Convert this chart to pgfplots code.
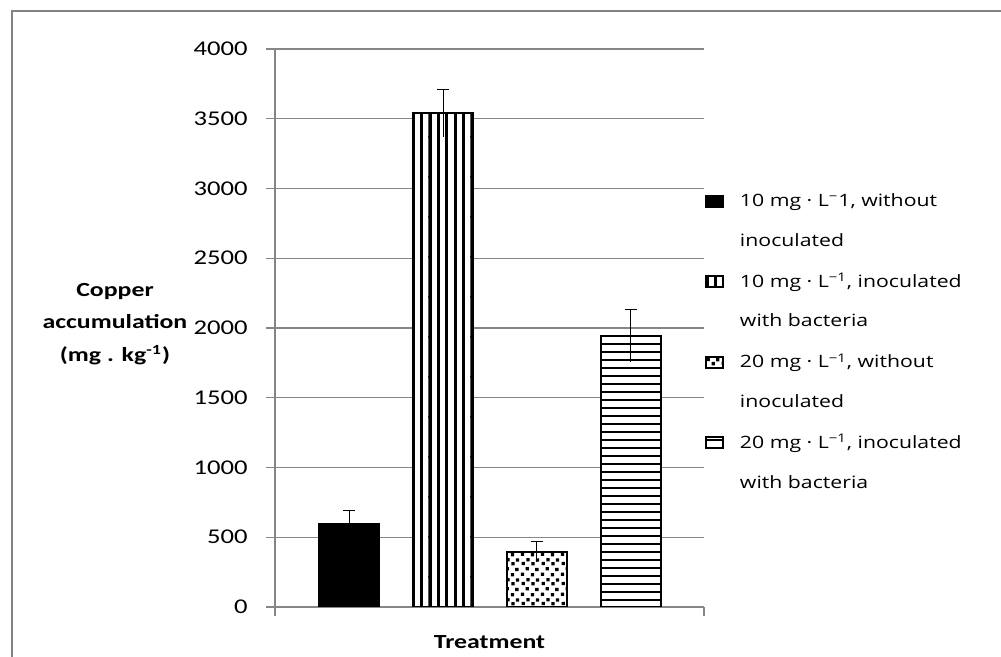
\documentclass[border=0pt]{standalone}
\usepackage{fontspec}
\setmainfont{Carlito}[FakeStretch=1.27]
\newfontfamily\labelfont{Carlito Bold}[FakeStretch=1.29]
\newfontfamily\legendfont{Open Sans}[FakeStretch=1.25]
\usepackage{pgfplots}
\pgfplotsset{compat=1.18}
\usetikzlibrary{patterns.meta}

\definecolor{gridgray}{RGB}{134,134,134}
\definecolor{framegray}{RGB}{130,130,130}

% bar fills (tiles overlap a little so no seams show)
\tikzdeclarepattern{name=vstripes, type=uncolored,
  bounding box={(0,-0.5pt) and (4.2pt,20.5pt)}, tile size={(4.2pt,20pt)},
  code={\fill (0pt,-0.5pt) rectangle (1.6pt,20.5pt);}}
\tikzdeclarepattern{name=hstripes, type=uncolored,
  bounding box={(-0.5pt,0) and (20.5pt,4pt)}, tile size={(20pt,4pt)},
  code={\fill (-0.5pt,0pt) rectangle (20.5pt,1.1pt);}}
\tikzdeclarepattern{name=speckle, type=uncolored,
  bounding box={(0,0) and (10pt,10pt)}, tile size={(10pt,10pt)},
  code={
    \fill (0.4pt,0.6pt) rectangle ++(1.7pt,1.7pt);
    \fill (5.6pt,0.3pt) rectangle ++(1.7pt,1.7pt);
    \fill (2.9pt,3.4pt) rectangle ++(1.7pt,1.7pt);
    \fill (7.9pt,3.0pt) rectangle ++(1.7pt,1.7pt);
    \fill (0.8pt,6.2pt) rectangle ++(1.7pt,1.7pt);
    \fill (5.9pt,6.0pt) rectangle ++(1.7pt,1.7pt);
    \fill (3.3pt,8.1pt) rectangle ++(1.7pt,1.7pt);
    \fill (8.2pt,8.0pt) rectangle ++(1.7pt,1.7pt);
  }}

\pgfplotsset{
  legbox/.style={legend image code/.code={\draw[##1] (0pt,-2.75pt) rectangle (8.3pt,2.75pt);}},
  topbar/.style={error bars/.cd, y dir=plus, y explicit, error mark=|,
    error mark options={black, mark size=3pt, line width=0.5pt},
    error bar style={black, line width=0.5pt}},
}

\begin{document}
\begin{tikzpicture}
\begin{axis}[
  at={(0,0)}, anchor=south west,
  scale only axis, width=214.5pt, height=279pt,
  ybar, bar width=0.64,
  xmin=0.21, xmax=4.78, ymin=0, ymax=4000,
  axis lines=left, axis line style={-, gridgray, line width=0.6pt},
  tick align=outside, major tick length=4.5pt,
  tick style={gridgray, line width=0.6pt},
  xtick={0.21,4.78}, xticklabels={,},
  ytick={0,500,...,4000},
  ymajorgrids, grid style={gridgray, line width=0.6pt},
  /pgf/number format/assume math mode=true,
  /pgf/number format/1000 sep={},
  yticklabel style={font=\fontsize{10.5}{12}\selectfont, inner sep=0pt, xshift=-9pt},
  xlabel={Treatment},
  xlabel style={at={(axis description cs:0.5,0)}, anchor=center, yshift=-17.5pt,
    font=\labelfont\fontsize{10}{12}\selectfont},
  ylabel={Copper\\accumulation\\(mg . kg\textsuperscript{-1})},
  every axis y label/.style={at={(axis description cs:0,0)}, anchor=center,
    xshift=-80pt, yshift=141.5pt, align=center,
    font=\labelfont\fontsize{10}{16.25}\selectfont},
  legend cell align=left,
  legend style={at={(axis description cs:1,0.749)}, anchor=north west, xshift=0.5pt, yshift=-2pt,
    draw=none, fill=none, inner sep=0pt, row sep=11.9pt, column sep=8pt,
    font=\legendfont\fontsize{8.5}{10}\selectfont,
    nodes={inner sep=0pt}},
]
\addplot[legbox, bar shift=0pt, draw=black, line width=1pt, fill=black, topbar]
  coordinates {(1,595) +- (0,95)};
\addlegendentry{10 mg · L\textsuperscript{−}1, without}
\addlegendimage{empty legend}
\addlegendentry{inoculated}

\addplot[legbox, bar shift=0pt, draw=black, line width=1pt, fill=white,
  postaction={pattern=vstripes, pattern color=black}, topbar]
  coordinates {(2,3539) +- (0,170)};
\addlegendentry{10 mg · L\textsuperscript{−1}, inoculated}
\addlegendimage{empty legend}
\addlegendentry{with bacteria}

\addplot[legbox, bar shift=0pt, draw=black, line width=1pt, fill=white,
  postaction={pattern=speckle, pattern color=black}, topbar]
  coordinates {(3,394) +- (0,72)};
\addlegendentry{20 mg · L\textsuperscript{−1}, without}
\addlegendimage{empty legend}
\addlegendentry{inoculated}

\addplot[legbox, bar shift=0pt, draw=black, line width=1pt, fill=white,
  postaction={pattern=hstripes, pattern color=black}, topbar]
  coordinates {(4,1943) +- (0,190)};
\addlegendentry{20 mg · L\textsuperscript{−1}, inoculated}
\addlegendimage{empty legend}
\addlegendentry{with bacteria}

% lower halves of the error bars, no cap
\addplot[forget plot, bar shift=0pt, draw=none, fill=none,
  error bars/.cd, y dir=minus, y explicit, error mark=none,
  error bar style={draw=black, line width=0.5pt}]
  coordinates {(1,595) +- (0,95) (2,3539) +- (0,170) (3,394) +- (0,72) (4,1943) +- (0,190)};
\end{axis}
\draw[framegray, line width=0.8pt] (-131.5pt,-40pt) -- (-131.5pt,298pt) -- (380pt,298pt);
\pgfresetboundingbox
\path[use as bounding box] (-137.5pt,-25pt) rectangle (363pt,303.5pt);
\end{tikzpicture}
\end{document}
